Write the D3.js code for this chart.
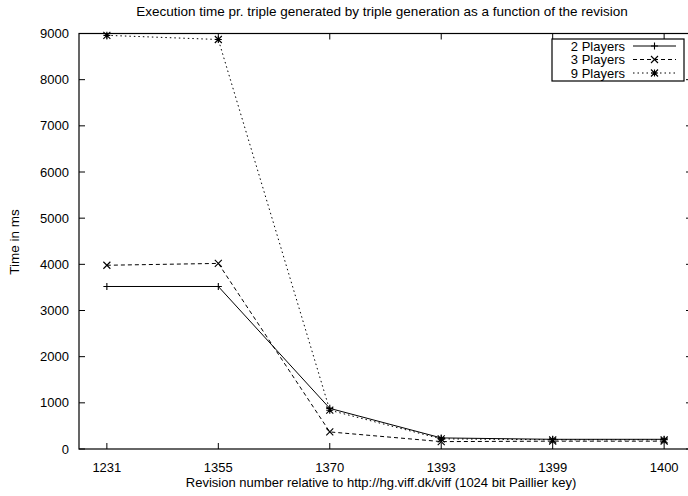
<!DOCTYPE html>
<html>
<head>
<meta charset="utf-8">
<script src="https://cdn.jsdelivr.net/npm/d3@7"></script>
<style>
  body { margin: 0; background: #fff; }
  svg { display: block; font-family: "Liberation Sans", Arial, Helvetica, sans-serif; }
</style>
</head>
<body>
<div id="chart"></div>
<script>
// revisions on the x axis
var revisions = ["1231", "1355", "1370", "1393", "1399", "1400"];
var players2 = [3520, 3520, 880, 240, 210, 210];
var players3 = [3980, 4020, 370, 160, 170, 170];
var players9 = [8960, 8870, 840, 220, 200, 200];
var yTicks = [0, 1000, 2000, 3000, 4000, 5000, 6000, 7000, 8000, 9000];

var series = [
    { name: "2 Players", values: players2, dash: null, marker: "plus" },
    { name: "3 Players", values: players3, dash: "4,3", marker: "cross" },
    { name: "9 Players", values: players9, dash: "1.5,3", marker: "star" }
];

var W = 688, H = 496;
// plot box (right edge runs past the window, as in the original)
var pLeft = 79, pRight = 692, pTop = 33.5, pBottom = 449;

var svg = d3.select("#chart").append("svg")
    .attr("width", W)
    .attr("height", H);

var x = d3.scaleLinear()
    .domain([-0.25, revisions.length - 0.75])
    .range([pLeft, pRight]);

var y = d3.scaleLinear()
    .domain([0, 9000])
    .range([pBottom, pTop]);

// frame
svg.append("rect")
    .attr("x", pLeft).attr("y", pTop)
    .attr("width", pRight - pLeft).attr("height", pBottom - pTop)
    .attr("fill", "none").attr("stroke", "#000").attr("stroke-width", 1.2);

// ticks on all four sides, pointing in
var tl = 6;
yTicks.forEach(function (t) {
    svg.append("line").attr("x1", pLeft).attr("x2", pLeft + tl)
        .attr("y1", y(t)).attr("y2", y(t)).attr("stroke", "#000");
    svg.append("line").attr("x1", pRight).attr("x2", pRight - tl)
        .attr("y1", y(t)).attr("y2", y(t)).attr("stroke", "#000");
    svg.append("text")
        .attr("x", pLeft - 10).attr("y", y(t) + 4.5)
        .attr("text-anchor", "end")
        .attr("font-size", 13)
        .text(t);
});

revisions.forEach(function (r, i) {
    svg.append("line").attr("x1", x(i)).attr("x2", x(i))
        .attr("y1", pBottom).attr("y2", pBottom - tl).attr("stroke", "#000");
    svg.append("line").attr("x1", x(i)).attr("x2", x(i))
        .attr("y1", pTop).attr("y2", pTop + tl).attr("stroke", "#000");
    svg.append("text")
        .attr("x", x(i)).attr("y", pBottom + 23)
        .attr("text-anchor", "middle")
        .attr("font-size", 13)
        .text(r);
});

// titles
svg.append("text")
    .attr("x", 382).attr("y", 16)
    .attr("text-anchor", "middle")
    .attr("font-size", 13.5)
    .text("Execution time pr. triple generated by triple generation as a function of the revision");

svg.append("text")
    .attr("x", 381).attr("y", 487)
    .attr("text-anchor", "middle")
    .attr("font-size", 13)
    .text("Revision number relative to http://hg.viff.dk/viff (1024 bit Paillier key)");

svg.append("text")
    .attr("transform", "translate(19," + 242 + ") rotate(-90)")
    .attr("text-anchor", "middle")
    .attr("font-size", 13.5)
    .text("Time in ms");

function drawMarker(g, type, cx, cy) {
    var s = 3.5;
    var p = d3.path();
    if (type === "plus" || type === "star") {
        p.moveTo(cx - s, cy); p.lineTo(cx + s, cy);
        p.moveTo(cx, cy - s); p.lineTo(cx, cy + s);
    }
    if (type === "cross" || type === "star") {
        p.moveTo(cx - s, cy - s); p.lineTo(cx + s, cy + s);
        p.moveTo(cx - s, cy + s); p.lineTo(cx + s, cy - s);
    }
    g.append("path").attr("d", p.toString())
        .attr("stroke", "#000").attr("stroke-width", 1.1).attr("fill", "none");
}

var line = d3.line()
    .x(function (d, i) { return x(i); })
    .y(function (d) { return y(d); });

series.forEach(function (s) {
    var g = svg.append("g");
    g.append("path")
        .attr("d", line(s.values))
        .attr("fill", "none")
        .attr("stroke", "#000")
        .attr("stroke-width", 1)
        .attr("stroke-dasharray", s.dash);
    s.values.forEach(function (v, i) {
        drawMarker(g, s.marker, x(i), y(v));
    });
});

// legend
var lg = svg.append("g");
lg.append("rect")
    .attr("x", 552).attr("y", 39)
    .attr("width", 132).attr("height", 42)
    .attr("fill", "#fff").attr("stroke", "#000").attr("stroke-width", 1.2);

series.forEach(function (s, i) {
    var cy = 46 + i * 13.5;
    lg.append("text")
        .attr("x", 625).attr("y", cy + 4.5)
        .attr("text-anchor", "end")
        .attr("font-size", 13)
        .text(s.name);
    lg.append("line")
        .attr("x1", 633).attr("x2", 676)
        .attr("y1", cy).attr("y2", cy)
        .attr("stroke", "#000")
        .attr("stroke-dasharray", s.dash);
    drawMarker(lg, s.marker, 654.5, cy);
});
</script>
</body>
</html>
